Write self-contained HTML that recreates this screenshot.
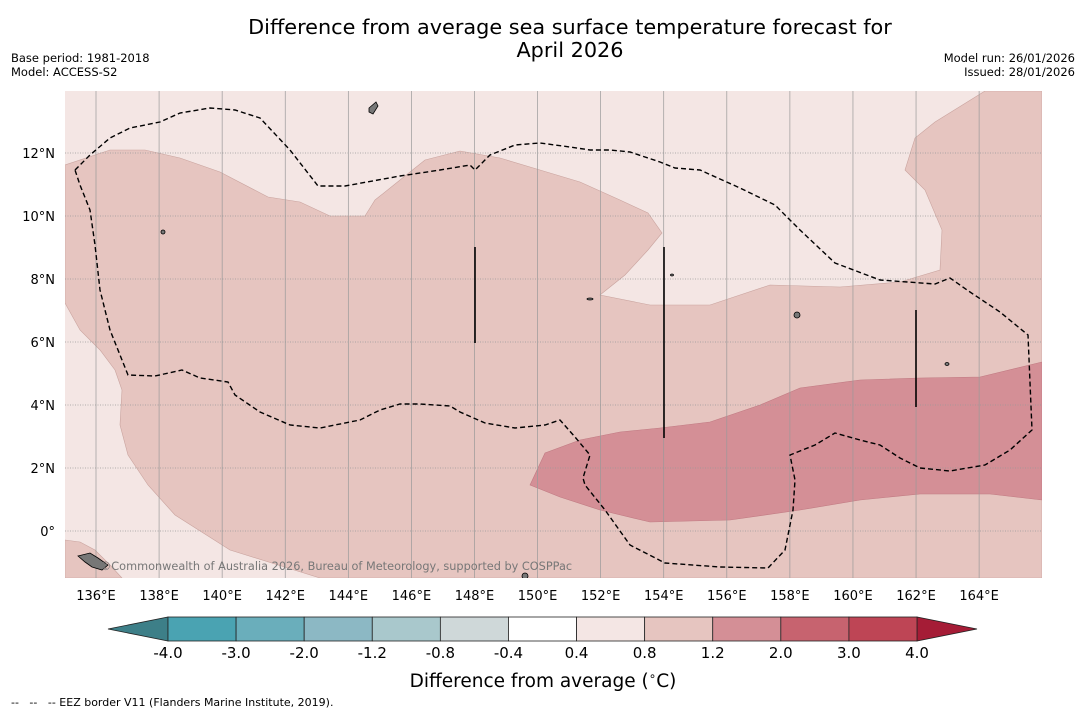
<!DOCTYPE html>
<html><head><meta charset="utf-8"><style>
body{margin:0;background:#fff;font-family:"DejaVu Sans","Liberation Sans",sans-serif;}
svg{display:block}
</style></head><body>
<svg width="1085" height="713" font-family="DejaVu Sans, Liberation Sans, sans-serif">
<text x="570" y="34" font-size="20.8" text-anchor="middle">Difference from average sea surface temperature forecast for</text>
<text x="570" y="57" font-size="20.8" text-anchor="middle">April 2026</text>
<text x="11" y="62" font-size="11.5">Base period: 1981-2018</text>
<text x="11" y="76" font-size="11.5">Model: ACCESS-S2</text>
<text x="1075" y="62" font-size="11.5" text-anchor="end">Model run: 26/01/2026</text>
<text x="1075" y="76" font-size="11.5" text-anchor="end">Issued: 28/01/2026</text>
<defs><clipPath id="mc"><rect x="65" y="91" width="977" height="487"/></clipPath></defs>
<g clip-path="url(#mc)">
<rect x="65" y="91" width="977" height="487" fill="#f4e6e4"/>
<path fill="#e6c5c0" stroke="#c9a39e" stroke-width="0.6" d="M65,165 L110,150 145,150 180,158 220,172 268,197 300,202 330,216 365,216 375,200 400,180 425,160 460,151 500,158 540,170 580,182 620,200 648,213 662,233 648,250 625,275 600,295 650,305 710,305 770,285 840,287 900,282 940,270 942,230 925,190 905,170 915,138 935,122 985,91 1042,91 1042,578 320,578 230,550 175,515 148,485 128,455 120,425 122,390 115,370 100,350 80,330 65,303 Z"/>
<path fill="#e6c5c0" stroke="#c9a39e" stroke-width="0.6" d="M65,540 L80,542 95,550 110,565 122,578 65,578 Z"/>
<path fill="#d48f96" stroke="#c07a82" stroke-width="0.6" d="M530,485 L545,453 580,440 620,432 660,428 710,422 760,405 800,388 860,380 920,378 980,377 1042,362 1042,500 990,494 920,494 860,500 800,510 730,520 650,522 600,510 560,497 Z"/>
<g stroke="#999" stroke-width="0.7">
<g id="vg"></g><g id="hg" stroke-dasharray="1,1.5"></g>
</g>
<path fill="none" stroke="#000" stroke-width="1.4" stroke-dasharray="5,3" d="M75,170 L90,155 110,138 130,128 160,122 180,113 210,108 235,110 260,118 290,150 318,186 345,186 400,176 440,170 470,165 475,170 490,155 515,145 540,143 570,147 590,150 610,150 630,152 660,162 675,168 700,170 740,188 775,205 800,230 835,263 880,280 935,284 950,278 970,292 1000,312 1028,335 1032,430 1010,450 985,465 950,471 920,468 900,458 880,445 860,440 835,433 815,445 790,455 795,480 793,510 785,550 768,568 720,567 665,563 630,545 605,510 585,485 583,478 590,455 575,437 560,420 545,425 515,428 485,423 460,412 450,406 420,404 400,404 380,410 360,420 320,428 290,425 260,412 235,395 228,382 200,378 182,370 155,376 128,375 110,330 100,290 95,245 90,210 80,185 75,170"/>
<g stroke="#000" stroke-width="1.6">
<line x1="475" y1="247" x2="475" y2="343"/><line x1="664" y1="247" x2="664" y2="438"/><line x1="916" y1="310" x2="916" y2="407"/>
</g>
<g fill="#777" stroke="#000" stroke-width="0.8">
<path d="M369,108 L376,102 378,106 373,114 369,112 Z"/>
<path d="M78,556 L90,553 98,558 108,565 102,570 92,567 85,562 Z"/>
<ellipse cx="797" cy="315" rx="3" ry="3"/><ellipse cx="947" cy="364" rx="2" ry="1.5"/>
<ellipse cx="163" cy="232" rx="2" ry="2"/><ellipse cx="590" cy="299" rx="3" ry="1"/><ellipse cx="672" cy="275" rx="1.5" ry="1"/>
<ellipse cx="525" cy="576" rx="3" ry="3"/>
</g>
<text x="100" y="570" font-size="11.3" fill="#777">©Commonwealth of Australia 2026, Bureau of Meteorology, supported by COSPPac</text>
</g>
<g id="xt" font-size="13"></g>
<g id="yt" font-size="13"></g>
<g id="cb"></g>
<text x="543" y="687" font-size="18.5" text-anchor="middle">Difference from average (<tspan baseline-shift="super" font-size="12">∘</tspan>C)</text>
<text x="11" y="706" font-size="11" xml:space="preserve" style="white-space:pre">--   --   -- EEZ border V11 (Flanders Marine Institute, 2019).</text>
<script>
var lons=[136,138,140,142,144,146,148,150,152,154,156,158,160,162,164];
var lats=[12,10,8,6,4,2,0];
var cbLabels=["-4.0","-3.0","-2.0","-1.2","-0.8","-0.4","0.4","0.8","1.2","2.0","3.0","4.0"];
var cbColors=["#4aa3b2","#6aaebb","#8cb8c4","#a9c8cc","#cfd8d9","#ffffff","#f4e6e4","#e6c5c0","#d48f96","#c7636f","#be4555"];
var NS="http://www.w3.org/2000/svg";
function X(lon){return 96+(lon-136)*31.54;}
function Y(lat){return 531-lat*31.5;}
function mk(t,a,p){var e=document.createElementNS(NS,t);for(var k in a)e.setAttribute(k,a[k]);p.appendChild(e);return e;}
var vg=document.getElementById('vg'),hg=document.getElementById('hg'),xt=document.getElementById('xt'),yt=document.getElementById('yt'),cb=document.getElementById('cb');
lons.forEach(function(l){
 var ln=mk('line',{x1:X(l),x2:X(l),y1:91,y2:578},vg);
 
 
 var t=mk('text',{x:X(l),y:600,'text-anchor':'middle'},xt);t.textContent=l+'°E';
 
 
});
lats.forEach(function(l){
 var ln=mk('line',{x1:65,x2:1042,y1:Y(l),y2:Y(l)},hg);
 
 
 var t=mk('text',{x:55,y:Y(l)+5,'text-anchor':'end'},yt);t.textContent=(l===0?'0°':l+'°N');
 
 
});
var x0=168,x1=917,w=(x1-x0)/cbColors.length;
var e1=mk('polygon',{points:'108,629 '+x0+',617 '+x0+',641',fill:'#3d7f88',stroke:'#222','stroke-width':0.8},cb);


var e2=mk('polygon',{points:'977,629 '+x1+',617 '+x1+',641',fill:'#a51c36',stroke:'#222','stroke-width':0.8},cb);


cbColors.forEach(function(c,i){
 var r=mk('rect',{x:x0+i*w,y:617,width:w,height:24,fill:c,stroke:'#222','stroke-width':0.8},cb);
 
 
});
cbLabels.forEach(function(s,i){
 var t=mk('text',{x:x0+i*w,y:658,'text-anchor':'middle','font-size':15},cb);t.textContent=s;
 
 
});
</script>
</svg>
</body></html>
